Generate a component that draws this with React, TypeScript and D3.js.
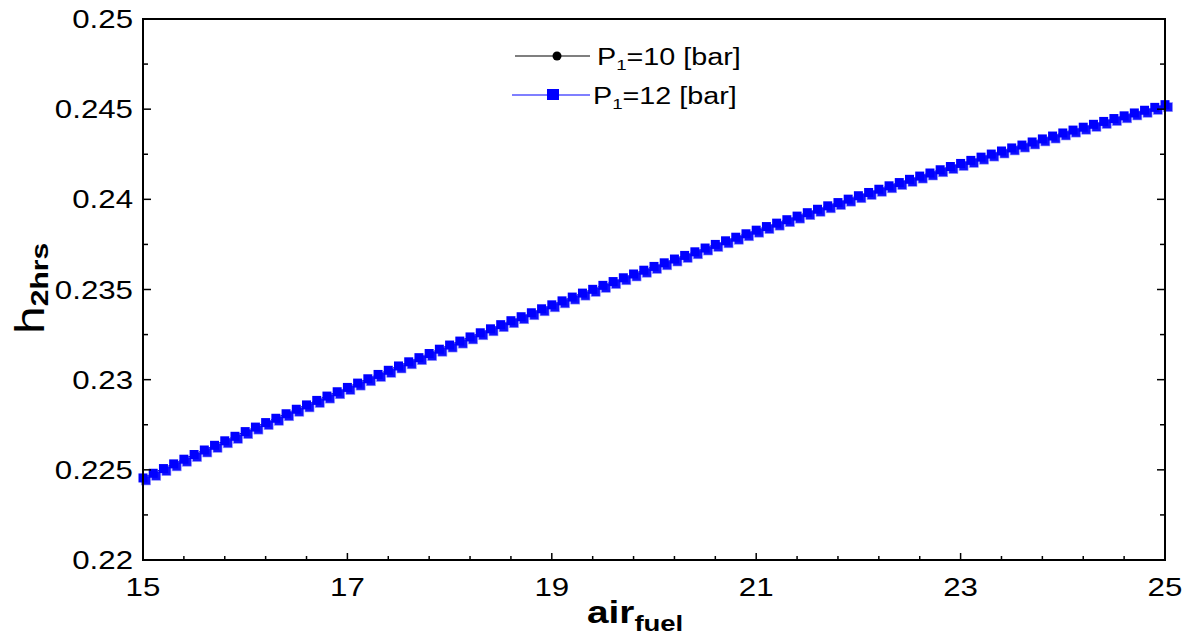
import React from 'react';
import * as d3 from 'd3';

// air/fuel ratio, 0.1 steps
const airFuel = [
  15.0, 15.1, 15.2, 15.3, 15.4, 15.5, 15.6, 15.7, 15.8, 15.9,
  16.0, 16.1, 16.2, 16.3, 16.4, 16.5, 16.6, 16.7, 16.8, 16.9,
  17.0, 17.1, 17.2, 17.3, 17.4, 17.5, 17.6, 17.7, 17.8, 17.9,
  18.0, 18.1, 18.2, 18.3, 18.4, 18.5, 18.6, 18.7, 18.8, 18.9,
  19.0, 19.1, 19.2, 19.3, 19.4, 19.5, 19.6, 19.7, 19.8, 19.9,
  20.0, 20.1, 20.2, 20.3, 20.4, 20.5, 20.6, 20.7, 20.8, 20.9,
  21.0, 21.1, 21.2, 21.3, 21.4, 21.5, 21.6, 21.7, 21.8, 21.9,
  22.0, 22.1, 22.2, 22.3, 22.4, 22.5, 22.6, 22.7, 22.8, 22.9,
  23.0, 23.1, 23.2, 23.3, 23.4, 23.5, 23.6, 23.7, 23.8, 23.9,
  24.0, 24.1, 24.2, 24.3, 24.4, 24.5, 24.6, 24.7, 24.8, 24.9,
  25.0,
];

// h2hrs (P1 = 12 bar)
const h2hrsP12 = [
  0.22455, 0.22481, 0.22507, 0.22533, 0.22559, 0.22585, 0.22610, 0.22636, 0.22661, 0.22686,
  0.22712, 0.22737, 0.22762, 0.22786, 0.22811, 0.22836, 0.22860, 0.22885, 0.22909, 0.22933,
  0.22957, 0.22981, 0.23005, 0.23029, 0.23052, 0.23076, 0.23099, 0.23122, 0.23145, 0.23169,
  0.23192, 0.23214, 0.23237, 0.23260, 0.23282, 0.23305, 0.23327, 0.23349, 0.23371, 0.23393,
  0.23415, 0.23437, 0.23458, 0.23480, 0.23501, 0.23523, 0.23544, 0.23565, 0.23586, 0.23607,
  0.23628, 0.23648, 0.23669, 0.23689, 0.23709, 0.23730, 0.23750, 0.23770, 0.23790, 0.23809,
  0.23829, 0.23849, 0.23868, 0.23887, 0.23907, 0.23926, 0.23945, 0.23964, 0.23982, 0.24001,
  0.24020, 0.24038, 0.24056, 0.24075, 0.24093, 0.24111, 0.24129, 0.24146, 0.24164, 0.24182,
  0.24199, 0.24216, 0.24234, 0.24251, 0.24268, 0.24285, 0.24301, 0.24318, 0.24335, 0.24351,
  0.24368, 0.24384, 0.24400, 0.24416, 0.24432, 0.24448, 0.24463, 0.24479, 0.24494, 0.24510,
  0.24525,
];

// P1 = 10 bar sits exactly under the 12 bar squares in the picture
const h2hrsP10 = h2hrsP12;

const xTicks = [15, 17, 19, 21, 23, 25];
const yTicks = [0.22, 0.225, 0.23, 0.235, 0.24, 0.245, 0.25];

const W = 1191;
const H = 638;
const margin = { top: 19, right: 26, bottom: 78, left: 143 };
const SX = 1.25; // text in the original is stretched sideways
const FONT = '"Liberation Sans", Arial, sans-serif';

function SText({ x, y, anchor = 'start', size = 25, weight = 'normal', children }: any) {
  return (
    <text
      transform={`translate(${x},${y}) scale(${SX},1)`}
      textAnchor={anchor}
      fontSize={size}
      fontWeight={weight}
      fontFamily={FONT}
      fill="#000"
    >
      {children}
    </text>
  );
}

export default function App() {
  const x = d3.scaleLinear().domain([15, 25]).range([margin.left, W - margin.right]);
  const y = d3.scaleLinear().domain([0.22, 0.25]).range([H - margin.bottom, margin.top]);

  const p10 = airFuel.map((a, i) => [a, h2hrsP10[i]] as [number, number]);
  const p12 = airFuel.map((a, i) => [a, h2hrsP12[i]] as [number, number]);
  const line = d3
    .line<[number, number]>()
    .x(d => x(d[0]))
    .y(d => y(d[1]));

  const x0 = x(15), x1 = x(25), y0 = y(0.22), y1 = y(0.25);
  const xMinor = d3.range(15, 25.001, 0.4).filter(v => !xTicks.some(t => Math.abs(t - v) < 1e-6));
  const yMinor = d3.range(0.22, 0.2501, 0.0025).filter(v => !yTicks.some(t => Math.abs(t - v) < 1e-7));
  const sq = 9;

  return (
    <svg width={W} height={H} style={{ position: 'absolute', left: 0, top: 0, display: 'block', background: '#fff' }}>
      {/* series P1=10 */}
      <path d={line(p10) || ''} fill="none" stroke="#000" strokeWidth={1} />
      {p10.map((d, i) => (
        <circle key={'c' + i} cx={x(d[0])} cy={y(d[1])} r={3.5} fill="#000" />
      ))}
      {/* series P1=12 */}
      <path d={line(p12) || ''} fill="none" stroke="#0000ff" strokeWidth={1} />
      {p12.map((d, i) => (
        <rect key={'s' + i} x={x(d[0]) - sq / 2 + 3} y={y(d[1]) - sq / 2 + 2.5} width={sq} height={sq} fill="#1010ff" stroke="#8a8aff" strokeWidth={0.6} />
      ))}
      {p12.map((d, i) => (
        <rect key={'q' + i} x={x(d[0]) - sq / 2} y={y(d[1]) - sq / 2} width={sq} height={sq} fill="#0000ff" />
      ))}

      {/* frame */}
      <rect x={x0} y={y1} width={x1 - x0} height={y0 - y1} fill="none" stroke="#000" strokeWidth={2} />

      {/* x ticks */}
      {xTicks.map(t => (
        <line key={'xt' + t} x1={x(t)} x2={x(t)} y1={y0} y2={y0 - 7} stroke="#000" strokeWidth={1.5} />
      ))}
      {xMinor.map(t => (
        <line key={'xm' + t} x1={x(t)} x2={x(t)} y1={y0} y2={y0 - 4} stroke="#000" strokeWidth={1.5} />
      ))}
      {/* y ticks, left and right */}
      {yTicks.map(t => (
        <g key={'yt' + t}>
          <line x1={x0} x2={x0 + 8} y1={y(t)} y2={y(t)} stroke="#000" strokeWidth={1.5} />
          <line x1={x1} x2={x1 - 8} y1={y(t)} y2={y(t)} stroke="#000" strokeWidth={1.5} />
        </g>
      ))}
      {yMinor.map(t => (
        <g key={'ym' + t}>
          <line x1={x0} x2={x0 + 5} y1={y(t)} y2={y(t)} stroke="#000" strokeWidth={1.5} />
          <line x1={x1} x2={x1 - 5} y1={y(t)} y2={y(t)} stroke="#000" strokeWidth={1.5} />
        </g>
      ))}

      {/* tick labels */}
      {xTicks.map(t => (
        <SText key={'xl' + t} x={x(t)} y={y0 + 36} anchor="middle">{String(t)}</SText>
      ))}
      {yTicks.map(t => (
        <SText key={'yl' + t} x={x0 - 10} y={y(t) + 9} anchor="end">{String(+t.toFixed(3))}</SText>
      ))}

      {/* axis titles */}
      <SText x={587} y={623} size={31} weight="bold">
        air<tspan fontSize={22} dy={8}>fuel</tspan>
      </SText>
      <text transform={`translate(44,334) rotate(-90) scale(${SX},1)`} fontFamily={FONT} fill="#000">
        <tspan fontSize={40}>h</tspan>
        <tspan fontSize={24} fontWeight="bold" dy={4}>2hrs</tspan>
      </text>

      {/* legend */}
      <line x1={515} x2={590} y1={56} y2={56} stroke="#000" strokeWidth={1.2} />
      <circle cx={557} cy={56} r={4.5} fill="#000" />
      <SText x={597} y={65} size={23}>
        P<tspan fontSize={15} dy={5}>1</tspan><tspan dy={-5}>=10 [bar]</tspan>
      </SText>
      <line x1={512} x2={590} y1={95} y2={95} stroke="#0000ff" strokeWidth={1.2} />
      <rect x={547} y={89} width={12} height={11} fill="#0000ff" />
      <SText x={593} y={104} size={23}>
        P<tspan fontSize={15} dy={5}>1</tspan><tspan dy={-5}>=12 [bar]</tspan>
      </SText>
    </svg>
  );
}
